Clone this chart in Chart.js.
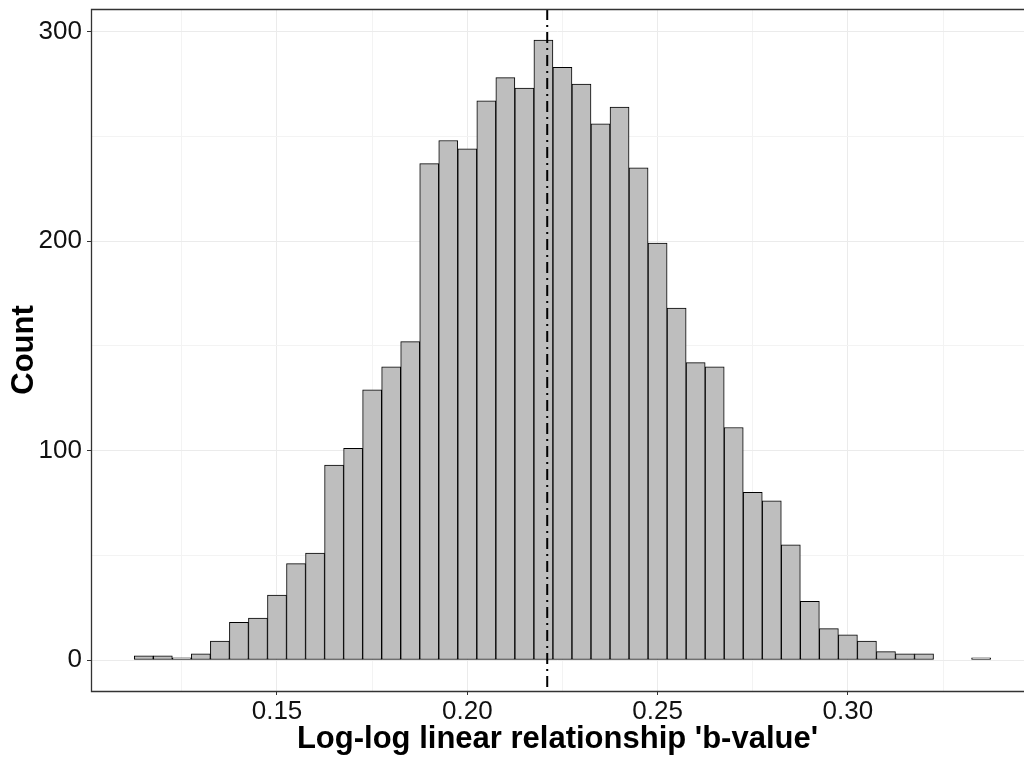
<!DOCTYPE html>
<html>
<head>
<meta charset="utf-8">
<title>b-value histogram</title>
<script src="https://cdn.jsdelivr.net/npm/chart.js@4.4.0/dist/chart.umd.min.js"></script>
<style>
  body { margin: 0; background: #fff; }
  canvas { display: block; }
</style>
</head>
<body>
<canvas id="myCanvas" width="1024" height="758"></canvas>
<script>
// histogram bins (bin centres, width 0.005) and counts
const binCenters = [
    0.115, 0.120, 0.125, 0.130, 0.135, 0.140, 0.145, 0.150, 0.155, 0.160,
    0.165, 0.170, 0.175, 0.180, 0.185, 0.190, 0.195, 0.200, 0.205, 0.210,
    0.215, 0.220, 0.225, 0.230, 0.235, 0.240, 0.245, 0.250, 0.255, 0.260,
    0.265, 0.270, 0.275, 0.280, 0.285, 0.290, 0.295, 0.300, 0.305, 0.310,
    0.315, 0.320, 0.325, 0.330, 0.335,
];
const counts = [
    2, 2, 1, 3, 9, 18, 20, 31, 46, 51,
    93, 101, 129, 140, 152, 237, 248, 244, 267, 278,
    273, 296, 283, 275, 256, 264, 235, 199, 168, 142,
    140, 111, 80, 76, 55, 28, 15, 12, 9, 4,
    3, 3, 0, 0, 1,
];
const bValueLine = 0.221;

const xTickValues = [0.15, 0.20, 0.25, 0.30];
const xTickLabels = ["0.15", "0.20", "0.25", "0.30"];
const xMinorGrid = [0.125, 0.175, 0.225, 0.275, 0.325];
const yTickValues = [0, 100, 200, 300];
const yTickLabels = ["0", "100", "200", "300"];
const yMinorGrid = [50, 150, 250];

const FONT = "'Liberation Sans', Arial, sans-serif";

const buildTicks = (major, minor) =>
    major.map((v) => ({ value: v, minor: false }))
        .concat(minor.map((v) => ({ value: v, minor: true })))
        .sort((a, b) => a.value - b.value);

const labelFor = (values, labels) => (value, index, ticks) => {
    if (ticks[index].minor) return "";
    const i = values.findIndex((v) => Math.abs(v - value) < 1e-9);
    return i >= 0 ? labels[i] : "";
};

const gridOpts = {
    offset: false,
    drawTicks: true,
    tickLength: 4,
    color: (ctx) => (ctx.tick && ctx.tick.minor ? "#F3F3F3" : "#EBEBEB"),
    lineWidth: 1,
    tickColor: (ctx) => (ctx.tick && ctx.tick.minor ? "rgba(0,0,0,0)" : "#333333"),
    tickWidth: 1,
};

// dash-dot reference line
const refLinePlugin = {
    id: "refLine",
    afterDatasetsDraw(chart) {
        const { ctx, chartArea, scales } = chart;
        const x = scales.x.getPixelForValue(bValueLine);
        ctx.save();
        ctx.strokeStyle = "#000";
        ctx.lineWidth = 2;
        ctx.setLineDash([11, 5, 2, 5]);
        ctx.beginPath();
        ctx.moveTo(x, chartArea.top);
        ctx.lineTo(x, chartArea.bottom);
        ctx.stroke();
        ctx.restore();
    },
};

// panel border (right edge falls outside the picture)
const panelBorderPlugin = {
    id: "panelBorder",
    afterDraw(chart) {
        const { ctx, chartArea } = chart;
        const l = Math.round(chartArea.left) + 0.5;
        const t = Math.round(chartArea.top) + 0.5;
        const b = Math.round(chartArea.bottom) + 0.5;
        ctx.save();
        ctx.strokeStyle = "#333333";
        ctx.lineWidth = 1.3;
        ctx.beginPath();
        ctx.moveTo(chartArea.right + 2, t);
        ctx.lineTo(l, t);
        ctx.lineTo(l, b);
        ctx.lineTo(chartArea.right + 2, b);
        ctx.stroke();
        ctx.restore();
    },
};

const data = {
    datasets: [
        {
            label: "Count",
            data: binCenters.map((x, i) => ({ x: x, y: counts[i] })),
            backgroundColor: "#BEBEBE",
            borderColor: "#000000",
            borderWidth: 1,
            borderSkipped: false,
            barPercentage: 1.0,
            categoryPercentage: 1.0,
        },
    ],
};

const chart = new Chart(document.getElementById("myCanvas"), {
    type: "bar",
    data,
    options: {
        responsive: false,
        animation: false,
        maintainAspectRatio: false,
        layout: { padding: { top: 9, right: 0, left: 0, bottom: 0 } },
        plugins: {
            legend: { display: false },
            tooltip: { enabled: false },
        },
        scales: {
            x: {
                type: "linear",
                offset: false,
                min: 0.10113,
                max: 0.34627,
                grid: gridOpts,
                border: { display: false },
                afterBuildTicks: (scale) => {
                    scale.ticks = buildTicks(xTickValues, xMinorGrid);
                },
                afterFit: (scale) => {
                    scale.height = 67;
                    scale.paddingLeft = 0;
                    scale.paddingRight = 0;
                },
                ticks: {
                    autoSkip: false,
                    maxRotation: 0,
                    minRotation: 0,
                    padding: 1,
                    color: "#111111",
                    font: { family: FONT, size: 26 },
                    callback: labelFor(xTickValues, xTickLabels),
                },
                title: {
                    display: true,
                    text: "Log-log linear relationship 'b-value'",
                    color: "#000000",
                    font: { family: FONT, size: 31, weight: "bold" },
                    padding: { top: 0, bottom: 0 },
                },
            },
            y: {
                type: "linear",
                min: -14.8,
                max: 310.8,
                grid: gridOpts,
                border: { display: false },
                afterBuildTicks: (scale) => {
                    scale.ticks = buildTicks(yTickValues, yMinorGrid);
                },
                afterFit: (scale) => {
                    scale.width = 91;
                    scale.paddingTop = 0;
                    scale.paddingBottom = 0;
                },
                ticks: {
                    autoSkip: false,
                    padding: 5,
                    color: "#111111",
                    font: { family: FONT, size: 26 },
                    callback: labelFor(yTickValues, yTickLabels),
                },
                title: {
                    display: true,
                    text: "Count",
                    color: "#000000",
                    font: { family: FONT, size: 31, weight: "bold" },
                    padding: { top: 6, bottom: 0 },
                },
            },
        },
    },
    plugins: [refLinePlugin, panelBorderPlugin],
});
</script>
</body>
</html>
